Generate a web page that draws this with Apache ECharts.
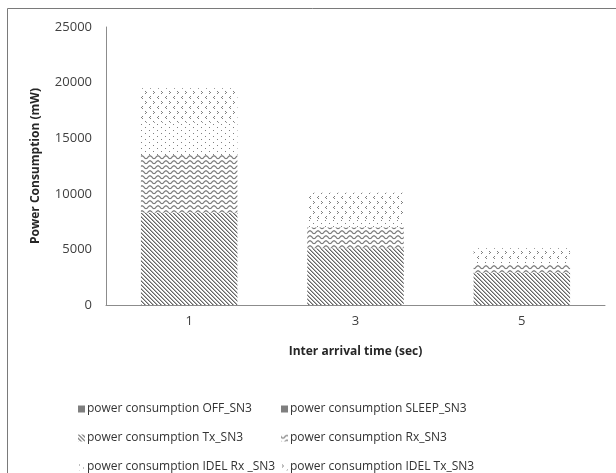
<!DOCTYPE html>
<html>
<head>
<meta charset="utf-8">
<script src="https://cdn.jsdelivr.net/npm/echarts@6/dist/echarts.min.js"></script>
<style>
html,body{margin:0;padding:0;background:#fff;}
#chart{width:616px;height:473px;}
</style>
</head>
<body>
<div id="chart"></div>
<script>
// ---- data ----
var categories = ['1', '3', '5'];
var seriesNames = [
  'power consumption OFF_SN3',
  'power consumption SLEEP_SN3',
  'power consumption Tx_SN3',
  'power consumption Rx_SN3',
  'power consumption IDEL Rx _SN3',
  'power consumption IDEL Tx_SN3'
];
var offSN3    = [0, 0, 0];
var sleepSN3  = [0, 0, 0];
var txSN3     = [8300, 5100, 2900];
var rxSN3     = [5200, 1900, 700];
var idelRxSN3 = [2900, 700, 400];
var idelTxSN3 = [3100, 2400, 1100];
var yTicks = [0, 5000, 10000, 15000, 20000, 25000];

// ---- patterns ----
function makeCanvas(w, h, draw) {
  var c = document.createElement('canvas');
  c.width = w; c.height = h;
  var ctx = c.getContext('2d');
  ctx.fillStyle = '#fff';
  ctx.fillRect(0, 0, w, h);
  draw(ctx, w, h);
  return c;
}
var diagPat = makeCanvas(4, 4, function (ctx) {
  for (var y = 0; y < 4; y++) for (var x = 0; x < 4; x++) {
    var d = ((x - y) % 4 + 4) % 4;
    if (d === 0) { ctx.fillStyle = '#666'; ctx.fillRect(x, y, 1, 1); }
    else if (d === 1) { ctx.fillStyle = '#b0b0b0'; ctx.fillRect(x, y, 1, 1); }
  }
});
var wavePat = makeCanvas(8, 5, function (ctx) {
  ctx.strokeStyle = '#7a7a7a';
  ctx.lineWidth = 1.2;
  ctx.beginPath();
  for (var x = -1; x <= 9; x += 0.5) {
    var y = 2.2 + 1.4 * Math.sin(x / 8 * 2 * Math.PI);
    if (x === -1) ctx.moveTo(x, y); else ctx.lineTo(x, y);
  }
  ctx.stroke();
});
var dotPat = makeCanvas(8, 6, function (ctx) {
  ctx.fillStyle = '#808080';
  ctx.fillRect(1, 1, 1, 1);
  ctx.fillRect(5, 4, 1, 1);
});
var chevPat = makeCanvas(8, 10, function (ctx) {
  ctx.fillStyle = '#808080';
  // ">" mark
  ctx.fillRect(1, 1, 1, 1); ctx.fillRect(2, 2, 1, 1); ctx.fillRect(1, 3, 1, 1);
  // "<" mark
  ctx.fillRect(6, 6, 1, 1); ctx.fillRect(5, 7, 1, 1); ctx.fillRect(6, 8, 1, 1);
});
var solidGrey = '#7f7f7f';

var dataSets = [offSN3, sleepSN3, txSN3, rxSN3, idelRxSN3, idelTxSN3];
var colors = [
  solidGrey, solidGrey,
  {image: diagPat, repeat: 'repeat'},
  {image: wavePat, repeat: 'repeat'},
  {image: dotPat, repeat: 'repeat'},
  {image: chevPat, repeat: 'repeat'}
];

var series = dataSets.map(function (d, i) {
  return {
    name: seriesNames[i],
    type: 'bar',
    stack: 'total',
    barCategoryGap: '42%',
    data: d,
    itemStyle: {color: colors[i]}
  };
});

var legendPos = [
  [73, 398], [276, 398],
  [73, 427], [276, 427],
  [73, 456], [276, 456]
];
var legends = seriesNames.map(function (n, i) {
  return {
    data: [n],
    left: legendPos[i][0],
    top: legendPos[i][1],
    itemWidth: 7,
    itemHeight: 7,
    itemGap: 4,
    icon: 'rect',
    selectedMode: false,
    textStyle: {fontFamily: 'Open Sans', fontSize: 12, color: '#333', padding: [0, 0, 0, -3]}
  };
});

var chart = echarts.init(document.getElementById('chart'), null, {renderer: 'canvas'});
chart.setOption({
  animation: false,
  backgroundColor: '#fff',
  graphic: [{
    type: 'rect',
    shape: {x: 7.5, y: 8.5, width: 640, height: 500},
    style: {fill: 'none', stroke: '#7a7a7a', lineWidth: 1},
    silent: true, z: -1
  }],
  grid: {left: 106, right: 11, top: 27, bottom: 168, containLabel: false},
  legend: legends,
  xAxis: {
    type: 'category',
    data: categories,
    name: 'Inter arrival time (sec)',
    nameLocation: 'middle',
    nameGap: 41,
    nameTextStyle: {fontFamily: 'Open Sans', fontSize: 12, fontWeight: 'bold', color: '#262626'},
    axisLine: {lineStyle: {color: '#8c8c8c', width: 1}},
    axisTick: {show: false},
    axisLabel: {fontFamily: 'Open Sans', fontSize: 13, color: '#404040', margin: 10}
  },
  yAxis: {
    type: 'value',
    min: 0, max: 25000, interval: 5000,
    name: 'Power Consumption (mW)',
    nameLocation: 'middle',
    nameGap: 64,
    nameRotate: 90,
    nameTextStyle: {fontFamily: 'Open Sans', fontSize: 12, fontWeight: 'bold', color: '#262626'},
    axisLine: {show: true, lineStyle: {color: '#8c8c8c', width: 1}},
    axisTick: {show: false},
    splitLine: {show: false},
    axisLabel: {
      fontFamily: 'Open Sans', fontSize: 13, color: '#404040', margin: 14,
      formatter: function (v) { return yTicks.indexOf(v) >= 0 ? String(v) : ''; }
    }
  },
  series: series
});
</script>
</body>
</html>
